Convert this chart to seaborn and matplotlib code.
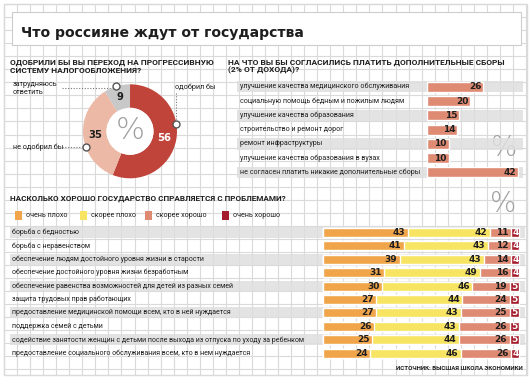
import numpy as np
import matplotlib
matplotlib.use("Agg")
import matplotlib.pyplot as plt
from matplotlib.patches import Rectangle, Circle
import seaborn as sns

# ---- data ----
title = "Что россияне ждут от государства"

q1_title = "ОДОБРИЛИ БЫ ВЫ ПЕРЕХОД НА ПРОГРЕССИВНУЮ\nСИСТЕМУ НАЛОГООБЛОЖЕНИЯ?"
q1_labels = ["одобрил бы", "не одобрил бы", "затрудняюсь\nответить"]
q1_values = [56, 35, 9]

q2_title = "НА ЧТО ВЫ БЫ СОГЛАСИЛИСЬ ПЛАТИТЬ ДОПОЛНИТЕЛЬНЫЕ СБОРЫ\n(2% ОТ ДОХОДА)?"
q2_labels = [
    "улучшение качества медицинского обслуживания",
    "социальную помощь бедным и пожилым людям",
    "улучшение качества образования",
    "строительство и ремонт дорог",
    "ремонт инфраструктуры",
    "улучшение качества образования в вузах",
    "не согласен платить никакие дополнительные сборы",
]
q2_values = [26, 20, 15, 14, 10, 10, 42]

q3_title = "НАСКОЛЬКО ХОРОШО ГОСУДАРСТВО СПРАВЛЯЕТСЯ С ПРОБЛЕМАМИ?"
q3_answers = ["очень плохо", "скорее плохо", "скорее хорошо", "очень хорошо"]
q3_problems = [
    "борьба с бедностью",
    "борьба с неравенством",
    "обеспечение людям достойного уровня жизни в старости",
    "обеспечение достойного уровня жизни безработным",
    "обеспечение равенства возможностей для детей из разных семей",
    "защита трудовых прав работающих",
    "предоставление медицинской помощи всем, кто в ней нуждается",
    "поддержка семей с детьми",
    "содействие занятости женщин с детьми после выхода из отпуска по уходу за ребенком",
    "предоставление социального обслуживания всем, кто в нем нуждается",
]
very_bad = [43, 41, 39, 31, 30, 27, 27, 26, 25, 24]
rather_bad = [42, 43, 43, 49, 46, 44, 43, 43, 44, 46]
rather_good = [11, 12, 14, 16, 19, 24, 25, 26, 26, 26]
very_good = [4, 4, 4, 4, 5, 5, 5, 5, 5, 4]

source = "ИСТОЧНИК: ВЫСШАЯ ШКОЛА ЭКОНОМИКИ"

# ---- style ----
sns.set_style("white")
plt.rcParams["font.family"] = ["DejaVu Sans"]

GRID = "#dadada"
BAND = "#dedede"
RED = "#c1443b"
PINK = "#ebb9a5"
GRAY = "#c8c8c8"
ORANGE = "#f0a54a"
YELLOW = "#f8e463"
SALMON = "#df8a72"
DARKRED = "#a51c2d"
INK = "#1e1e1e"

HEAD = ["Roboto", "DejaVu Sans"]
LAB = ["Roboto", "DejaVu Sans"]
NUM = ["DejaVu Sans"]

W, H = 531, 380
fig = plt.figure(figsize=(W / 100, H / 100), dpi=100)


def px_axes(x0, y0, x1, y1):
    ax = fig.add_axes([x0 / W, 1 - y1 / H, (x1 - x0) / W, (y1 - y0) / H])
    ax.patch.set_alpha(0)
    return ax


# background: graph paper + title box
bg = fig.add_axes([0, 0, 1, 1])
bg.set_xlim(0, W)
bg.set_ylim(H, 0)
bg.axis("off")
step = 13.05
for x in np.arange(4, 528, step):
    bg.plot([x, x], [4, 375], color=GRID, lw=0.8, zorder=1)
for y in np.arange(4, 376, step):
    bg.plot([4, 527], [y, y], color=GRID, lw=0.8, zorder=1)
bg.add_patch(Rectangle((4, 4), 523, 371, fill=False, ec=GRID, lw=1))
bg.add_patch(Rectangle((12, 12), 509, 33, fc="white", ec="#cccccc", lw=0.8,
                       zorder=2))
bg.text(21, 37, title, fontsize=10.1, fontweight="heavy", color=INK,
        va="baseline", zorder=4)

bg.text(10, 66.5, q1_title, fontsize=6.0, fontweight="bold", family=HEAD,
        color=INK, va="center", linespacing=1.2)
bg.text(228, 66.5, q2_title, fontsize=6.0, fontweight="bold", family=HEAD,
        color=INK, va="center", linespacing=1.2)
bg.text(10, 199, q3_title, fontsize=5.85, fontweight="bold", family=HEAD,
        color=INK, va="center")

# ---- donut ----
cx, cy, R = 130, 131.3, 47
ax1 = px_axes(cx - R, cy - R, cx + R, cy + R)
wedges, _ = ax1.pie(q1_values, colors=[RED, PINK, GRAY], startangle=90,
                    counterclock=False, radius=1,
                    wedgeprops=dict(width=0.5, edgecolor="none"))
ax1.add_patch(Circle((0, 0), 0.5, fc="white", ec="none"))
ax1.set_xlim(-1, 1)
ax1.set_ylim(-1, 1)
for w, v, c in zip(wedges, q1_values, ["white", INK, INK]):
    a = np.deg2rad((w.theta1 + w.theta2) / 2)
    ax1.text(0.75 * np.cos(a), 0.75 * np.sin(a), str(v), color=c,
             fontsize=7.2, fontweight="bold", family=NUM, ha="center",
             va="center")
ax1.text(0, 0.02, "%", fontsize=22, color="#a0a0a0", fontweight="light",
         ha="center", va="center")

# callouts
mark_angles = [9, -160, 107]
for ang in mark_angles:
    a = np.deg2rad(ang)
    ax1.plot(np.cos(a), np.sin(a), "o", ms=5, mfc="white", mec="#555555",
             mew=1, clip_on=False, zorder=5)
bg.plot([176, 176], [93, 120], ls=(0, (1, 1.5)), color="#777777", lw=0.8)
bg.plot([62, 82], [147, 147], ls=(0, (1, 1.5)), color="#777777", lw=0.8)
bg.plot([62, 112], [88, 88], ls=(0, (1, 1.5)), color="#777777", lw=0.8)
bg.text(175, 87, q1_labels[0], fontsize=5.2, family=LAB, color=INK, va="center")
bg.text(13, 147, q1_labels[1], fontsize=5.2, family=LAB, color=INK, va="center")
bg.text(13, 88, q1_labels[2], fontsize=5.2, family=LAB, color=INK, va="center",
        linespacing=1.2)

# ---- additional fees bars ----
x0, x1, zero, ppu = 236.7, 523, 426.7, 2.18
ax2 = px_axes(x0, 79.6, x1, 179.6)
for i in range(0, len(q2_labels), 2):
    ax2.axhspan(i - 0.4, i + 0.4, color=BAND, alpha=0.85, lw=0, zorder=0)
sns.barplot(x=q2_values, y=q2_labels, orient="h", color=SALMON, width=0.7,
            saturation=1, ax=ax2, zorder=2)
ax2.set_xlim(-(zero - x0) / ppu, (x1 - zero) / ppu)
ax2.set_ylim(len(q2_labels) - 0.5, -0.5)
ax2.axis("off")
for i, (lab, v) in enumerate(zip(q2_labels, q2_values)):
    ax2.text(-(zero - 240) / ppu, i, lab, fontsize=5.15, family=LAB, color=INK,
             va="center")
    ax2.text(v - 0.9, i, str(v), fontsize=6.5, fontweight="bold", family=NUM,
             color=INK, ha="right", va="center", zorder=3)
bg.text(504, 148, "%", fontsize=20, color="#a0a0a0", fontweight="light",
        ha="center", va="center")

# ---- how well the state copes ----
colors = [ORANGE, YELLOW, SALMON, DARKRED]
for j, (ans, c) in enumerate(zip(q3_answers, colors)):
    lx = [15, 80, 145, 222][j]
    bg.add_patch(Rectangle((lx, 211), 7, 8.5, fc=c, ec="none", zorder=3))
    bg.text(lx + 11, 215.3, ans, fontsize=5.1, family=LAB, color=INK,
            va="center")
bg.text(503, 204, "%", fontsize=20, color="#a0a0a0", fontweight="light",
        ha="center", va="center")

x0, x1, zero, ppu = 10, 525, 323.3, 1.96
ax3 = px_axes(x0, 225.6, x1, 360)
for i in range(0, len(q3_problems), 2):
    ax3.axhspan(i - 0.41, i + 0.41, color=BAND, alpha=0.85, lw=0, zorder=0)
parts = np.array([very_bad, rather_bad, rather_good, very_good])
cum = parts.cumsum(axis=0)
for j in range(3, -1, -1):
    sns.barplot(x=cum[j], y=q3_problems, orient="h", color=colors[j],
                width=0.67, saturation=1, ax=ax3, zorder=2)
ax3.set_xlim(-(zero - x0) / ppu, (x1 - zero) / ppu)
ax3.set_ylim(len(q3_problems) - 0.5, -0.5)
ax3.axis("off")
for i, lab in enumerate(q3_problems):
    ax3.text(-(zero - 12) / ppu, i, lab, fontsize=5.05, family=LAB, color=INK,
             va="center")
    for j in range(3):
        ax3.text(cum[j][i] - 1.3, i, str(parts[j][i]), fontsize=6.5,
                 fontweight="bold", family=NUM, color=INK, ha="right",
                 va="center", zorder=3)
    ax3.text(cum[2][i] + parts[3][i] / 2, i, str(parts[3][i]), fontsize=6.5,
             fontweight="bold", family=NUM, color="white", ha="center",
             va="center", zorder=3)

bg.text(523, 369, source, fontsize=4.4, fontweight="bold", family=HEAD,
        color=INK, ha="right", va="center")

fig.savefig("out.png", dpi=100)
